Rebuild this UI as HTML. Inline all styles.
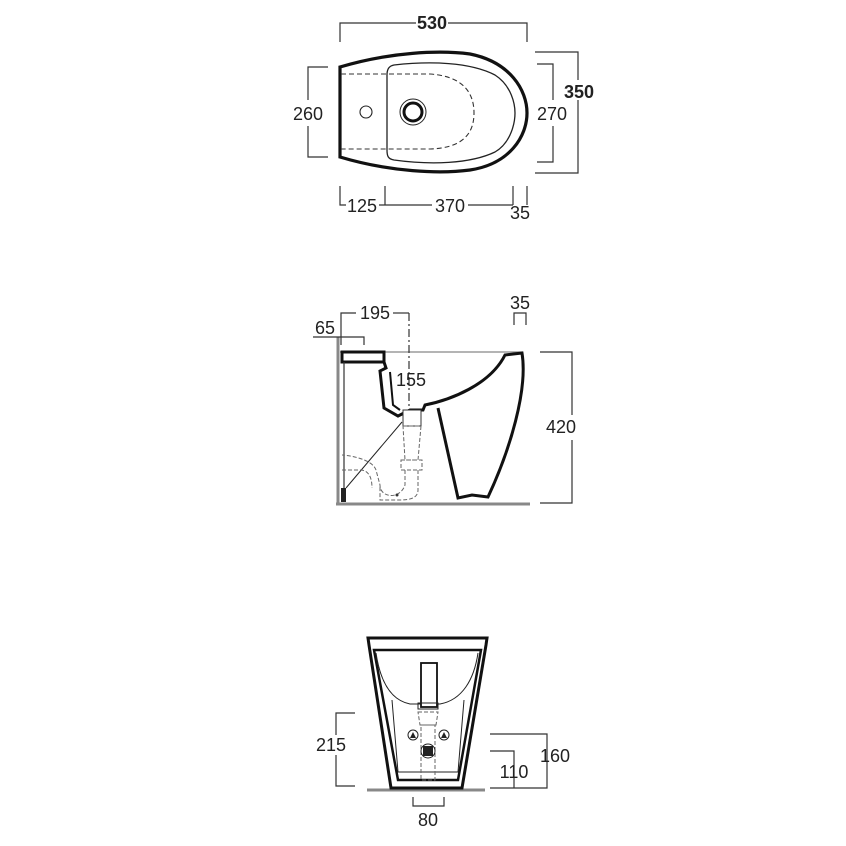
<!DOCTYPE html>
<html><head><meta charset="utf-8"><style>
html,body{margin:0;padding:0;background:#fff;width:846px;height:846px;overflow:hidden}
text{font-family:"Liberation Sans",Arial,sans-serif;font-size:18px;fill:#222}
</style></head><body>
<svg width="846" height="846" viewBox="0 0 846 846" xmlns="http://www.w3.org/2000/svg">
<g fill="none" stroke="#333" stroke-width="1.2">
<!-- TOP VIEW dims -->
<polyline points="340,42 340,23 416,23"/><polyline points="448,23 527,23 527,42"/>
<polyline points="535,52 578,52 578,80"/><polyline points="578,100 578,173 535,173"/>
<polyline points="537,64 553,64 553,100"/><polyline points="553,126 553,162 537,162"/>
<polyline points="328,67 308,67 308,100"/><polyline points="308,126 308,157 328,157"/>
<polyline points="340,186 340,205 346,205"/><line x1="379" y1="205" x2="432" y2="205"/><line x1="468" y1="205" x2="513" y2="205"/>
<line x1="385" y1="186" x2="385" y2="205"/><line x1="513" y1="186" x2="513" y2="205"/><line x1="527" y1="186" x2="527" y2="205"/>
</g>
<!-- top view body -->
<path d="M340,67 C390,52 440,50 470,54 C510,62 527,90 527,113 C527,136 510,164 470,170 C440,174 390,172 340,157 Z" fill="#fff" stroke="#111" stroke-width="3.2"/>
<path d="M394,65 C430,61 470,62 495,75 C512,86 515,105 515,113 C515,121 512,142 495,152 C470,164 430,165 394,160 C388,159 387,156 387,150 L387,75 C387,69 389,66 394,65 Z" fill="none" stroke="#222" stroke-width="1.3"/>
<path d="M341,74 L430,74 C460,76 474,90 474,113 C474,136 460,148 430,149 L341,149" fill="none" stroke="#333" stroke-width="1.1" stroke-dasharray="5,3"/>
<circle cx="366" cy="112" r="6" fill="none" stroke="#222" stroke-width="1.1"/>
<circle cx="413" cy="112" r="13" fill="none" stroke="#222" stroke-width="1"/>
<circle cx="413" cy="112" r="9" fill="none" stroke="#111" stroke-width="3"/>
<text x="432" y="29" text-anchor="middle" font-weight="bold" font-size="19">530</text>
<text x="579" y="98" text-anchor="middle" font-weight="bold" font-size="19">350</text>
<text x="552" y="120" text-anchor="middle">270</text>
<text x="308" y="120" text-anchor="middle">260</text>
<text x="362" y="212" text-anchor="middle">125</text>
<text x="450" y="212" text-anchor="middle">370</text>
<text x="520" y="219" text-anchor="middle">35</text>

<!-- SIDE VIEW -->
<line x1="336" y1="504" x2="530" y2="504" stroke="#888" stroke-width="3"/>
<line x1="338" y1="337" x2="338" y2="504" stroke="#888" stroke-width="3"/>
<line x1="340" y1="352" x2="523" y2="352" stroke="#888" stroke-width="1.2"/>
<g fill="none" stroke="#333" stroke-width="1.2">
<polyline points="341,345 341,313 356,313"/><line x1="393" y1="313" x2="409" y2="313"/>
<line x1="409" y1="313" x2="409" y2="410" stroke-dasharray="8,3,2,3"/>
<polyline points="313,337 364,337 364,345"/>
<polyline points="514,325 514,313 526,313 526,325"/>
<polyline points="540,352 572,352 572,415"/><polyline points="572,440 572,503 540,503"/>
</g>
<rect x="342" y="352" width="42" height="10" fill="#fff" stroke="#111" stroke-width="3"/>
<path d="M384,362 L386,368 L380,371 L384,408 L398,416 L410,410 L423,410 L425,405 C450,400 490,385 505,355 L522,353 C528,390 510,450 488,497 L472,495 L458,498 L438,408" fill="none" stroke="#111" stroke-width="3"/>
<path d="M390,372 L393,405 L400,410" fill="none" stroke="#111" stroke-width="2"/>
<rect x="403" y="410" width="18" height="16" fill="#fff" stroke="#333" stroke-width="1"/>
<line x1="344" y1="362" x2="344" y2="494" stroke="#333" stroke-width="1.2"/>
<rect x="341" y="488" width="5" height="14" fill="#222"/>
<line x1="346" y1="488" x2="402" y2="422" stroke="#222" stroke-width="1"/>
<g fill="none" stroke="#666" stroke-width="1" stroke-dasharray="4,2">
<path d="M403,426 L421,426 L418,460 L405,460 Z"/>
<path d="M401,460 L422,460 L422,470 L401,470 Z"/>
<path d="M405,470 L405,485 C400,500 380,498 380,485 L376,470 C372,458 345,455 342,455"/>
<path d="M418,470 L418,490 C418,498 410,500 400,500 L380,500 L380,485"/>
<path d="M342,470 L360,470 C370,470 372,480 372,488"/>
</g>
<circle cx="397" cy="495" r="1.5" fill="#333"/>
<text x="375" y="319" text-anchor="middle">195</text>
<text x="325" y="334" text-anchor="middle">65</text>
<text x="520" y="309" text-anchor="middle">35</text>
<text x="411" y="386" text-anchor="middle">155</text>
<text x="561" y="433" text-anchor="middle">420</text>

<!-- FRONT VIEW -->
<line x1="367" y1="790" x2="485" y2="790" stroke="#888" stroke-width="3"/>
<path d="M368,638 L487,638 L486,645 L462,788 L391,788 L369,645 Z" fill="#fff" stroke="#111" stroke-width="3"/>
<path d="M374,650 L481,650 L458,780 L398,780 Z" fill="none" stroke="#111" stroke-width="2.5"/>
<path d="M376,653 C380,680 390,700 410,704 L440,704 C462,700 474,680 478,653" fill="none" stroke="#222" stroke-width="1"/>
<path d="M392,700 L398,772 L458,772 L464,700" fill="none" stroke="#222" stroke-width="1"/>
<rect x="421" y="663" width="16" height="44" fill="#fff" stroke="#111" stroke-width="1.8"/>
<path d="M418,703 L438,703 L438,709 L418,709 Z" fill="none" stroke="#222" stroke-width="1"/>
<g fill="none" stroke="#666" stroke-width="1" stroke-dasharray="4,2">
<path d="M418,712 L438,712 L436,725 L420,725 Z"/>
<path d="M421,725 L435,725 L435,780 L421,780 Z"/>
</g>
<circle cx="413" cy="735" r="5" fill="#fff" stroke="#222"/><path d="M410,738 L413,732 L416,738 Z" fill="#222"/>
<circle cx="444" cy="735" r="5" fill="#fff" stroke="#222"/><path d="M441,738 L444,732 L447,738 Z" fill="#222"/>
<circle cx="428" cy="751" r="7" fill="#fff" stroke="#222"/><rect x="423" y="746" width="10" height="10" fill="#222"/>
<g fill="none" stroke="#333" stroke-width="1.2">
<polyline points="355,713 336,713 336,735"/><polyline points="336,755 336,786 355,786"/>
<polyline points="490,734 547,734 547,788 490,788"/>
<polyline points="490,751 514,751 514,788"/>
<polyline points="413,797 413,806 444,806 444,797"/>
</g>
<text x="331" y="751" text-anchor="middle">215</text>
<text x="555" y="762" text-anchor="middle">160</text>
<text x="514" y="778" text-anchor="middle">110</text>
<text x="428" y="826" text-anchor="middle">80</text>
</svg>
</body></html>
